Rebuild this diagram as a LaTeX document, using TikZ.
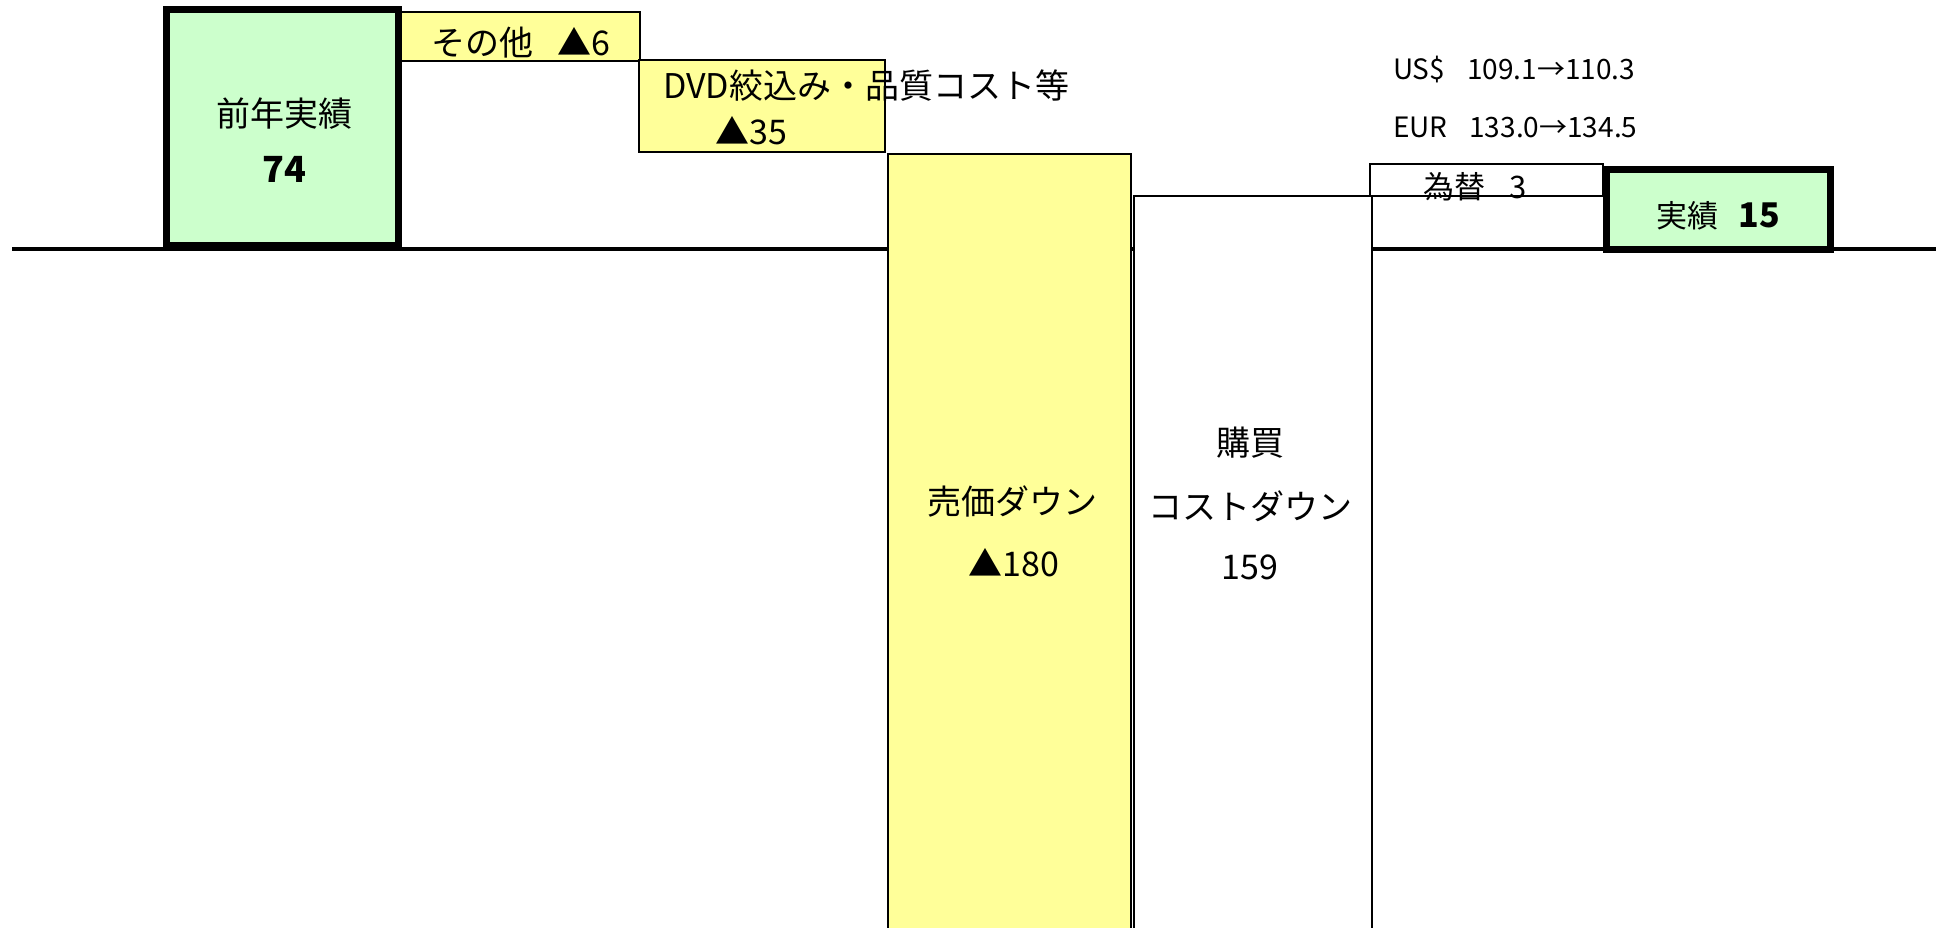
\documentclass[tikz,border=0pt]{standalone}
\usepackage{fontspec}
\setmainfont{Noto Sans CJK JP}
\definecolor{boxgreen}{HTML}{CCFFCC}
\definecolor{boxyellow}{HTML}{FFFF99}
\begin{document}
\begin{tikzpicture}[x=1pt,y=-1pt,
  bar/.style={draw=black, rectangle, outer sep=0pt, inner sep=0pt, anchor=north west, line width=1.6pt},
  thickbar/.style={bar, line width=7pt},
  lbl/.style={inner sep=0pt, outer sep=0pt, font=\fontsize{34}{40}\selectfont},
  smalllbl/.style={lbl, font=\fontsize{28}{32}\selectfont},
  midlbl/.style={lbl, font=\fontsize{31}{36}\selectfont}]
\useasboundingbox (0,0) rectangle (1936,927);
\clip (0,0) rectangle (1936,927);
\fill[white] (0,0) rectangle (1936,927);
% base line
\coordinate (bl) at (12,249);
\coordinate (br) at (1936,249);
\draw[line width=3.5pt] (bl) -- (br);
% boxes
\node[thickbar, fill=boxgreen, minimum width=232pt, minimum height=236pt] (prev) at (166.5,9.5) {};
\node[bar, fill=boxyellow, minimum width=239pt, minimum height=49pt] (other) at (401,12) {};
\node[bar, fill=boxyellow, minimum width=246pt, minimum height=92pt] (dvd) at (639,60) {};
\node[bar, fill=boxyellow, minimum width=243pt, minimum height=800pt] (sales) at (888,154) {};
\node[bar, fill=white, minimum width=238pt, minimum height=800pt] (purch) at (1134,196) {};
\node[bar, fill=white, minimum width=233pt, minimum height=32pt] (fx) at (1370,164) {};
\node[thickbar, fill=boxgreen, minimum width=224pt, minimum height=80pt] (result) at (1606.5,169.5) {};
% labels
\node[lbl] (prevA) at (284,114) {前年実績};
\node[lbl] (prevB) at (284,169) {\fontsize{36}{40}\selectfont\bfseries 74};
\node[lbl] (otherT) at (521,43) {その他\hspace{24pt}▲6};
\node[lbl, anchor=west] (dvdA) at (663,86) {DVD絞込み・品質コスト等};
\node[lbl] (dvdB) at (751,131) {▲35};
\node[lbl] (salesA) at (1012,501) {売価ダウン};
\node[lbl] (salesB) at (1014,563) {▲180};
\node[lbl] (purchA) at (1250,443) {購買};
\node[lbl] (purchB) at (1250,506) {コストダウン};
\node[lbl] (purchC) at (1250,567) {159};
\node[midlbl] (fxT) at (1475,187) {為替\hspace{24pt}3};
\node[midlbl] (resT) at (1718,216) {実績\hspace{20pt}{\fontsize{34}{36}\selectfont\bfseries 15}};
\node[smalllbl, anchor=west] (usd) at (1393,70) {US\$\hspace{22pt}109.1→110.3};
\node[smalllbl, anchor=west] (eur) at (1393,127) {EUR\hspace{22pt}133.0→134.5};
\end{tikzpicture}
\end{document}
